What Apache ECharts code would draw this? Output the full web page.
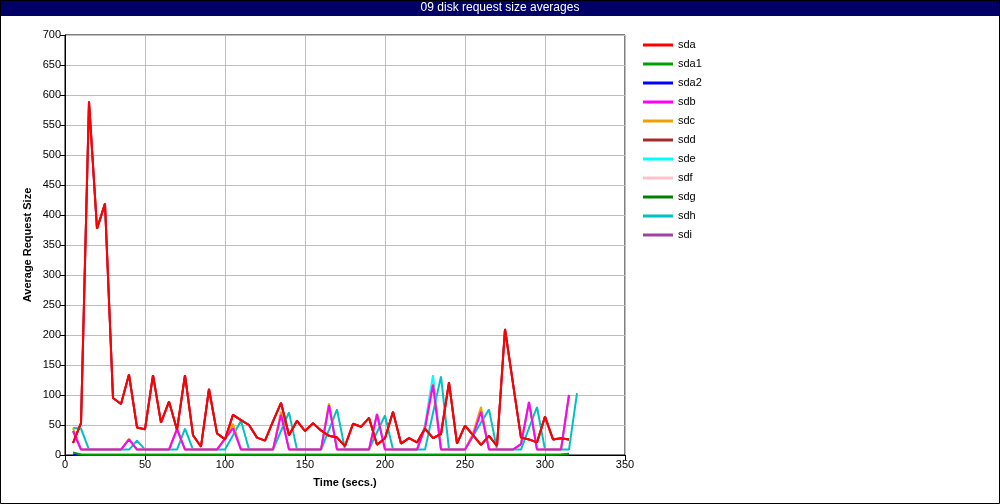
<!DOCTYPE html>
<html><head><meta charset="utf-8">
<script src="https://cdn.jsdelivr.net/npm/echarts@6/dist/echarts.min.js"></script>
<style>html,body{margin:0;padding:0;background:#fff}#c{width:1000px;height:504px}</style>
</head><body><div id="c"></div>
<script>
const titleText = '09 disk request size averages';
const xName = 'Time (secs.)';
const yName = 'Average Request Size';
const seriesNames = ['sda','sda1','sda2','sdb','sdc','sdd','sde','sdf','sdg','sdh','sdi'];
const seriesColors = ['#ff0000','#00a000','#0000ff','#ff00ff','#f0a000','#a52a2a','#00ffff','#ffc0cb','#008000','#00c0c0','#a040a0'];

const times = [5,10,15,20,25,30,35,40,45,50,55,60,65,70,75,80,85,90,95,100,
  105,110,115,120,125,130,135,140,145,150,155,160,165,170,175,180,185,190,195,200,
  205,210,215,220,225,230,235,240,245,250,255,260,265,270,275,280,285,290,295,300,
  305,310,315,320];

const sda = [20,53,589,377,419,95,85,134,46,43,133,54,89,42,133,33,14,110,36,26,
  67,58,50,29,24,56,87,33,57,40,53,41,32,29,15,52,47,62,17,28,
  72,19,28,21,44,28,35,121,19,49,33,17,32,15,210,119,29,26,21,64,
  26,28,26,null];
const sda1 = [4,1,0.5,0.5,0.5,0.5,0.5,0.5,0.5,0.5,0.5,0.5,0.5,0.5,0.5,0.5,0.5,0.5,0.5,0.5,
  0.5,0.5,0.5,0.5,0.5,0.5,0.5,0.5,0.5,0.5,0.5,0.5,0.5,0.5,0.5,0.5,0.5,0.5,0.5,0.5,
  0.5,0.5,0.5,0.5,0.5,0.5,0.5,0.5,0.5,0.5,0.5,0.5,0.5,0.5,0.5,0.5,0.5,0.5,0.5,0.5,
  0.5,1,2,null];
const sda2 = [0,0,0,0,0,0,0,0,0,0,0,0,0,0,0,0,0,0,0,0,
  0,0,0,0,0,0,0,0,0,0,0,0,0,0,0,0,0,0,0,0,
  0,0,0,0,0,0,0,0,0,0,0,0,0,0,0,0,0,0,0,0,
  0,0,0,null];
const sdb = [40,9,9,9,9,9,9,26,9,9,9,9,9,43,9,9,9,9,9,27,
  45,9,9,9,9,9,67,9,9,9,9,9,83,9,9,9,9,9,68,9,
  9,9,9,9,45,117,9,9,9,9,32,72,9,9,9,9,18,88,9,9,
  9,9,100,null];
const sdc = [45,9,9,9,9,9,9,27,9,9,9,9,9,44,9,9,9,9,9,28,
  52,9,9,9,9,9,72,9,9,9,9,9,86,9,9,9,9,9,69,9,
  9,9,9,9,46,118,9,9,9,9,36,80,9,9,9,9,18,89,9,9,
  9,9,100,null];
const sdd = [20,53,589,377,419,95,85,134,46,43,133,54,89,42,133,33,14,110,36,26,
  67,58,50,29,24,56,87,33,57,40,53,41,32,29,15,52,47,62,17,28,
  72,19,28,21,44,28,35,121,19,49,33,17,32,15,210,119,29,26,21,64,
  26,28,26,null];
const sde = [40,9,9,9,9,9,9,26,9,9,9,9,9,43,9,9,9,9,9,27,
  45,9,9,9,9,9,67,9,9,9,9,9,83,9,9,9,9,9,68,9,
  9,9,9,9,50,133,9,9,9,9,32,72,9,9,9,9,18,88,9,9,
  9,9,100,null];
const sdf = [0,0,0,0,0,0,0,0,0,0,0,0,0,0,0,0,0,0,0,0,
  0,0,0,0,0,0,0,0,0,0,0,0,0,0,0,0,0,0,0,0,
  0,0,0,0,0,0,0,0,0,0,0,0,0,0,0,0,0,0,0,0,
  0,0,0,null];
const sdg = [1,0.5,0.5,0.5,0.5,0.5,0.5,0.5,0.5,0.5,0.5,0.5,0.5,0.5,0.5,0.5,0.5,0.5,0.5,0.5,
  0.5,0.5,0.5,0.5,0.5,0.5,0.5,0.5,0.5,0.5,0.5,0.5,0.5,0.5,0.5,0.5,0.5,0.5,0.5,0.5,
  0.5,0.5,0.5,0.5,0.5,0.5,0.5,0.5,0.5,0.5,0.5,0.5,0.5,0.5,0.5,0.5,0.5,0.5,0.5,0.5,
  0.5,0.5,1,null];
const sdh = [45,44,9,9,9,9,9,9,24,9,9,9,9,9,44,9,9,9,9,9,
  33,57,9,9,9,9,40,71,9,9,9,9,42,76,9,9,9,9,38,66,
  9,9,9,9,9,70,131,9,9,9,32,54,76,9,9,9,9,45,80,9,
  9,9,9,103];
const sdi = [20,53,589,377,419,95,85,134,46,43,133,54,89,42,133,33,14,110,36,26,
  67,58,50,29,24,56,87,33,57,40,53,41,32,29,15,52,47,62,17,28,
  72,19,28,21,44,28,35,121,19,49,33,17,32,15,210,119,29,26,21,64,
  26,28,26,null];

const allValues = {sda, sda1, sda2, sdb, sdc, sdd, sde, sdf, sdg, sdh, sdi};

const chart = echarts.init(document.getElementById('c'), null, {renderer: 'canvas'});
const FONT = 'Liberation Sans, Arial, sans-serif';

// draw in reverse order so sda ends on top
const series = seriesNames.slice().reverse().map(name => {
  const idx = seriesNames.indexOf(name);
  const vals = allValues[name];
  const data = [];
  times.forEach((t, i) => { if (vals[i] !== null && vals[i] !== undefined) data.push([t, vals[i]]); });
  return {
    name, type: 'line', data, showSymbol: false, symbol: 'none',
    lineStyle: {width: 2, color: seriesColors[idx]},
    itemStyle: {color: seriesColors[idx]},
    animation: false
  };
});

chart.setOption({
  animation: false,
  backgroundColor: '#ffffff',
  textStyle: {fontFamily: FONT},
  graphic: [
    {type: 'rect', shape: {x: 0.5, y: 0.5, width: 999, height: 503}, style: {fill: 'none', stroke: '#000', lineWidth: 1}, silent: true, z: 100},
    {type: 'rect', shape: {x: 0, y: 0, width: 1000, height: 16}, style: {fill: '#000066'}, silent: true, z: 99},
    {type: 'text', left: 'center', top: 2, style: {text: titleText, fill: '#ffffff', font: '12px ' + FONT}, silent: true, z: 101}
  ],
  legend: {
    data: seriesNames,
    orient: 'vertical',
    left: 638, top: 34,
    icon: 'rect',
    itemWidth: 30, itemHeight: 3,
    itemGap: 7,
    textStyle: {fontSize: 11, color: '#000', fontFamily: FONT, lineHeight: 12},
    selectedMode: false
  },
  grid: {left: 65, right: 375, top: 35, bottom: 49, show: true, borderColor: '#000', borderWidth: 1, containLabel: false},
  xAxis: {
    type: 'value', min: 0, max: 350, interval: 50,
    name: xName, nameLocation: 'middle', nameGap: 22, nameMoveOverlap: false,
    nameTextStyle: {fontWeight: 'bold', fontSize: 11, color: '#000', fontFamily: FONT},
    axisLine: {show: true, lineStyle: {color: '#000', width: 1}},
    axisTick: {show: true, length: 5, lineStyle: {color: '#000'}},
    axisLabel: {fontSize: 11, color: '#000', margin: 4, fontFamily: FONT},
    splitLine: {show: true, lineStyle: {color: '#bdbdbd', width: 1}}
  },
  yAxis: {
    type: 'value', min: 0, max: 700, interval: 50,
    name: yName, nameLocation: 'middle', nameGap: 32, nameMoveOverlap: false,
    nameTextStyle: {fontWeight: 'bold', fontSize: 11, color: '#000', fontFamily: FONT},
    axisLine: {show: true, lineStyle: {color: '#000', width: 1}},
    axisTick: {show: true, length: 5, lineStyle: {color: '#000'}},
    axisLabel: {fontSize: 11, color: '#000', margin: 4, fontFamily: FONT},
    splitLine: {show: true, lineStyle: {color: '#bdbdbd', width: 1}}
  },
  series
});
</script></body></html>
